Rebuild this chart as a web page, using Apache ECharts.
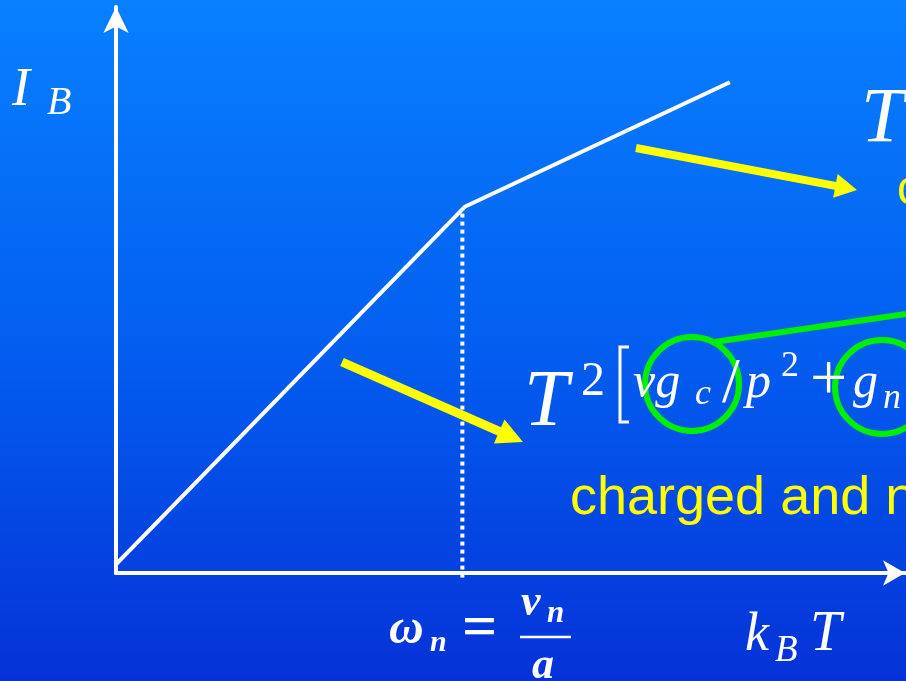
<!DOCTYPE html>
<html>
<head>
<meta charset="utf-8">
<script src="https://cdn.jsdelivr.net/npm/echarts@6/dist/echarts.min.js"></script>
<style>
  html, body { margin: 0; padding: 0; }
  #chart { width: 906px; height: 681px; }
</style>
</head>
<body>
<div id="chart"></div>
<script>
// Kinked response curve I_B against k_B T (arbitrary units)
const curveX = [-0.12, 4.42, 7.78];
const curveY = [-0.02, 6.47, 8.67];
// Dotted drop line at the crossover ω_n
const dropX = [4.39, 4.39];
const dropY = [6.35, -0.09];
// Axis extents
const xRange = [0, 10];
const yRange = [0, 10];

const chart = echarts.init(document.getElementById('chart'));

const SERIF = '"Liberation Serif", "DejaVu Serif", serif';
const SANS = '"Liberation Sans", Arial, sans-serif';

// Text placed by its baseline
function tex(str, x, base, size, style, family, color) {
  return {
    type: 'text', silent: true, z: 20,
    style: {
      text: str, x: x, y: base - 0.32 * size,
      font: (style || '') + ' ' + size + 'px ' + (family || SERIF),
      fill: color || '#ffffff',
      align: 'left', verticalAlign: 'middle'
    }
  };
}

// Filled arrow outline from tail to tip
function arrow(tail, tip, shaftW, headL, headW, color) {
  const dx = tip[0] - tail[0], dy = tip[1] - tail[1];
  const len = Math.hypot(dx, dy);
  const ux = dx / len, uy = dy / len, px = -uy, py = ux;
  const bx = tip[0] - ux * headL, by = tip[1] - uy * headL;
  const s = shaftW / 2, h = headW / 2;
  return {
    type: 'polygon', silent: true, z: 15,
    shape: { points: [
      [tail[0] + px * s, tail[1] + py * s],
      [bx + px * s, by + py * s],
      [bx + px * h, by + py * h],
      tip,
      [bx - px * h, by - py * h],
      [bx - px * s, by - py * s],
      [tail[0] - px * s, tail[1] - py * s]
    ] },
    style: { fill: color }
  };
}

const YELLOW = '#ffff00';
const GREEN = '#00ee00';

const graphics = [
  // axis titles
  tex('I', 12, 108, 54, 'italic'),
  tex('B', 47, 116, 40, 'italic'),
  tex('k', 745, 653, 54, 'italic'),
  tex('B', 775, 663, 37, 'italic'),
  tex('T', 810, 653, 56, 'italic'),
  // crossover label ω_n = v_n / a
  tex('ω', 389, 646, 48, 'italic bold'),
  tex('n', 430, 653, 30, 'italic bold'),
  tex('=', 462, 650, 62, 'bold'),
  tex('v', 521, 618, 44, 'italic bold'),
  tex('n', 547, 624, 31, 'italic bold'),
  { type: 'line', silent: true, z: 20,
    shape: { x1: 520, y1: 637, x2: 571, y2: 637 },
    style: { stroke: '#ffffff', lineWidth: 2.5 } },
  tex('a', 532, 681, 44, 'italic bold'),
  // high temperature term
  tex('T', 861, 145, 78, 'italic'),
  tex('c', 897, 206, 48, '', SANS, YELLOW),
  // low temperature term
  tex('T', 524, 430, 80, 'italic'),
  tex('2', 581, 398, 48, ''),
  { type: 'polyline', silent: true, z: 20,
    shape: { points: [[629, 347], [620, 347], [620, 422], [629, 422]] },
    style: { stroke: '#ffffff', lineWidth: 3, fill: 'none' } },
  tex('νg', 633, 400, 50, 'italic'),
  tex('c', 695, 406, 36, 'italic'),
  tex('/', 722, 406, 64, ''),
  tex('p', 746, 400, 50, 'italic'),
  tex('2', 781, 378, 36, ''),
  tex('+', 810, 403, 66, ''),
  tex('g', 853, 400, 50, 'italic'),
  tex('n', 883, 410, 36, 'italic'),
  tex('charged and n', 570, 516, 54, '', SANS, YELLOW),
  // green highlights
  { type: 'circle', silent: true, z: 12,
    shape: { cx: 692, cy: 384, r: 47 },
    style: { fill: 'none', stroke: GREEN, lineWidth: 6 } },
  { type: 'circle', silent: true, z: 12,
    shape: { cx: 882, cy: 387, r: 47 },
    style: { fill: 'none', stroke: GREEN, lineWidth: 6 } },
  { type: 'line', silent: true, z: 12,
    shape: { x1: 714, y1: 342, x2: 906, y2: 314 },
    style: { stroke: GREEN, lineWidth: 6 } },
  // yellow pointers
  arrow([636, 148], [857, 190], 8, 22, 24, YELLOW),
  arrow([342, 362], [523, 442], 9, 26, 26, YELLOW)
];

const axisCommon = {
  type: 'value',
  axisLine: {
    show: true, onZero: false,
    symbol: ['none', 'arrow'],
    lineStyle: { color: '#ffffff', width: 4 }
  },
  axisTick: { show: false },
  axisLabel: { show: false },
  splitLine: { show: false }
};

chart.setOption({
  animation: false,
  backgroundColor: {
    type: 'linear', x: 0, y: 0, x2: 0, y2: 1,
    colorStops: [
      { offset: 0, color: '#0880ff' },
      { offset: 0.5, color: '#035ff0' },
      { offset: 1, color: '#0532d8' }
    ]
  },
  grid: { left: 116, right: 1, top: 7, bottom: 108, outerBoundsMode: 'none' },
  xAxis: Object.assign({}, axisCommon, {
    min: xRange[0], max: xRange[1],
    axisLine: Object.assign({}, axisCommon.axisLine, { symbolSize: [19, 22] })
  }),
  yAxis: Object.assign({}, axisCommon, {
    min: yRange[0], max: yRange[1],
    axisLine: Object.assign({}, axisCommon.axisLine, { symbolSize: [19, 26] })
  }),
  series: [
    {
      type: 'line', clip: false, silent: true, symbol: 'none',
      data: curveX.map((x, i) => [x, curveY[i]]),
      lineStyle: { color: '#ffffff', width: 4 }
    },
    {
      type: 'line', clip: false, silent: true, symbol: 'none',
      data: dropX.map((x, i) => [x, dropY[i]]),
      lineStyle: { color: '#ffffff', width: 4, type: [4, 4], cap: 'butt' }
    }
  ],
  graphic: graphics
});
</script>
</body>
</html>
